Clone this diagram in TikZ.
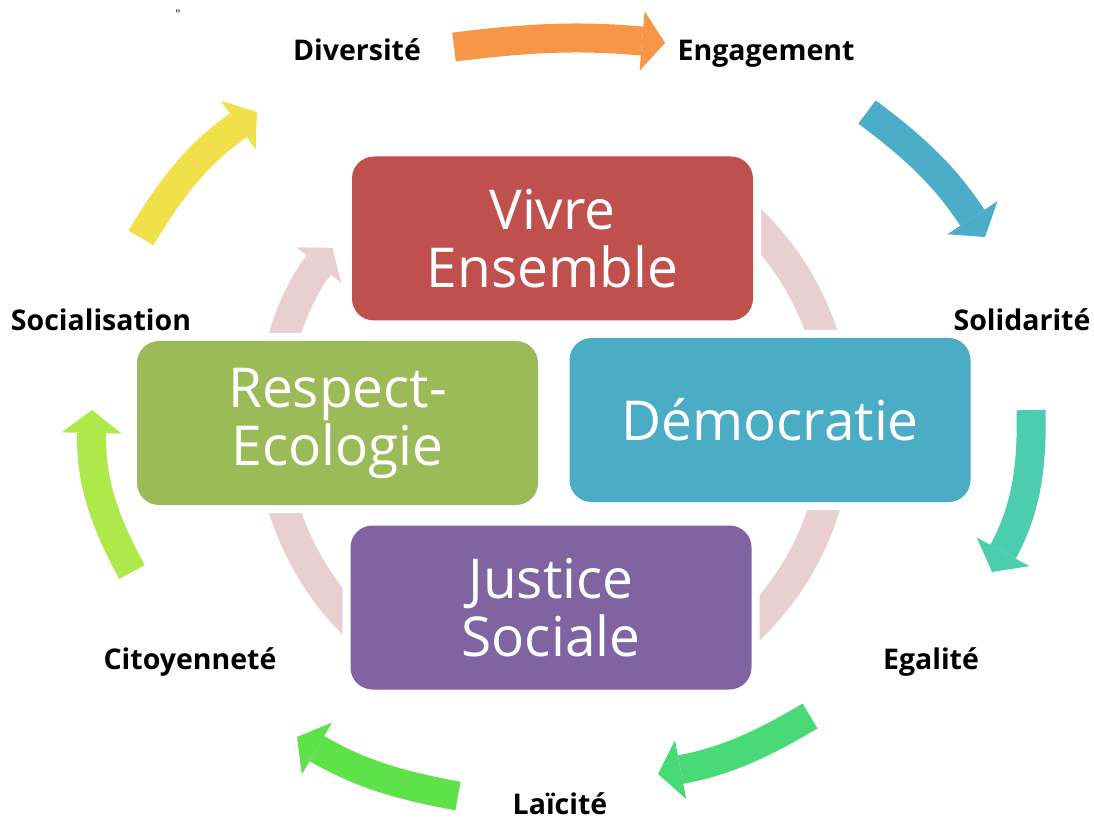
\documentclass[tikz,border=0pt]{standalone}
\usepackage{fontspec}
\setmainfont{Open Sans}
\usetikzlibrary{arrows.meta}

\definecolor{vivrecol}{HTML}{C0504D}
\definecolor{democol}{HTML}{4BACC6}
\definecolor{respcol}{HTML}{9BBB59}
\definecolor{justcol}{HTML}{8064A2}
\definecolor{ringcol}{HTML}{E8D0D1}
\definecolor{orangecol}{HTML}{F79646}
\definecolor{bluecol}{HTML}{4BADC7}
\definecolor{tealcol}{HTML}{4CCEAE}
\definecolor{greencol}{HTML}{4AD977}
\definecolor{brightcol}{HTML}{5FE14A}
\definecolor{limecol}{HTML}{AEE94B}
\definecolor{yellowcol}{HTML}{F0E14A}

\tikzset{
  box/.style={rounded corners=22pt, minimum width=401pt, minimum height=164pt,
    inner sep=0pt, text=white, align=center, font=\fontsize{55}{58}\selectfont,
    preaction={draw=white, line width=16pt}},
  lbl/.style={anchor=base, font=\fontsize{28.5}{30}\selectfont\bfseries},
  ring/.style={draw=ringcol, line width=31pt},
  cyc/.style={line width=29pt, -{Triangle[width=60pt,length=23pt,line width=0pt]}},
}

\begin{document}
\begin{tikzpicture}[x=1pt,y=1pt]
    \useasboundingbox (0,0) rectangle (1094,820);
    \node[font=\fontsize{12}{12}\selectfont] (mark) at (178,806) {\textquotedbl};
    % pink cycle behind the boxes
    \coordinate (mid) at (554,396);
    \draw[ring] (mid) ++(50:283) arc[start angle=50, end angle=-5, radius=283];
    \draw[ring] (mid) ++(-10:283) arc[start angle=-10, end angle=-60, radius=283];
    \draw[ring] (mid) ++(-120:283) arc[start angle=-120, end angle=-170, radius=283];
    \draw[ring, -{Triangle[width=57pt,length=22pt,line width=0pt]}] (mid) ++(180:283)
        arc[start angle=180, end angle=141.5, radius=283];
    % the four boxes
    \node[box, fill=vivrecol] (vivre) at (552.5,581.5) {Vivre\\Ensemble};
    \node[box, fill=democol] (democratie) at (770,400) {Démocratie};
    \node[box, fill=respcol] (respect) at (337.5,397) {Respect-\\Ecologie};
    \node[box, fill=justcol] (justice) at (551,212.5) {Justice\\Sociale};
    % outer labels
    \node[lbl] (diversite) at (357,759) {Diversité};
    \node[lbl] (engagement) at (766,759) {Engagement};
    \node[lbl] (solidarite) at (1022,489) {Solidarité};
    \node[lbl] (egalite) at (931,151) {Egalité};
    \node[lbl] (laicite) at (560,6) {Laïcité};
    \node[lbl] (citoyennete) at (190,151) {Citoyenneté};
    \node[lbl] (socialisation) at (101,489) {Socialisation};
    % outer arrows
    \coordinate (a1) at (454,773);  \coordinate (b1) at (665,777);
    \coordinate (a2) at (867,708);  \coordinate (b2) at (985,583);
    \coordinate (a3) at (1031,410); \coordinate (b3) at (992,248);
    \coordinate (a4) at (810,104);  \coordinate (b4) at (658,46);
    \coordinate (a5) at (458,24);   \coordinate (b5) at (297,83);
    \coordinate (a6) at (132,248);  \coordinate (b6) at (92,410);
    \coordinate (a7) at (141,582);  \coordinate (b7) at (257,708);
    \draw[cyc, orangecol] (a1) to[bend left=6] (b1);
    \draw[cyc, bluecol] (a2) to[bend left=10] (b2);
    \draw[cyc, tealcol] (a3) to[bend left=15] (b3);
    \draw[cyc, greencol] (a4) to[bend left=10] (b4);
    \draw[cyc, brightcol] (a5) to[bend left=10] (b5);
    \draw[cyc, limecol] (a6) to[bend left=15] (b6);
    \draw[cyc, yellowcol] (a7) to[bend left=12] (b7);
\end{tikzpicture}
\end{document}
